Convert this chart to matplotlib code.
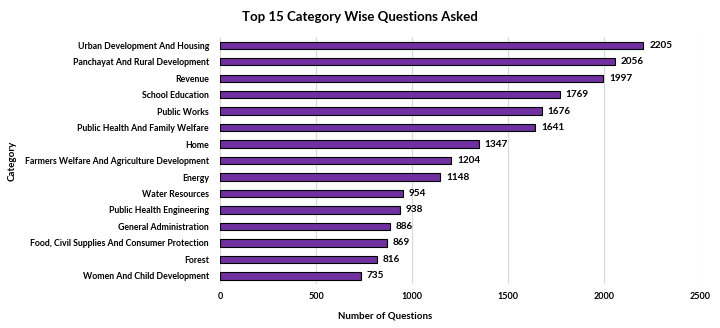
import matplotlib
matplotlib.use("Agg")
import matplotlib.pyplot as plt

categories = [
    "Urban Development And Housing",
    "Panchayat And Rural Development",
    "Revenue",
    "School Education",
    "Public Works",
    "Public Health And Family Welfare",
    "Home",
    "Farmers Welfare And Agriculture Development",
    "Energy",
    "Water Resources",
    "Public Health Engineering",
    "General Administration",
    "Food, Civil Supplies And Consumer Protection",
    "Forest",
    "Women And Child Development",
]
questions = [2205, 2056, 1997, 1769, 1676, 1641, 1347, 1204, 1148, 954, 938, 886, 869, 816, 735]
xticks = [0, 500, 1000, 1500, 2000, 2500]

plt.rcParams['font.family'] = ['Lato', 'DejaVu Sans']
plt.rcParams['font.weight'] = 'bold'

fig = plt.figure(figsize=(7.2, 3.28), dpi=100)
ax = fig.add_axes([0.3056, 0.134, 0.6667, 0.753])

ypos = list(range(len(categories)))
ax.barh(ypos, questions, height=0.45, color='#7030A0', edgecolor='black', linewidth=0.8, zorder=3)
for y, v in zip(ypos, questions):
    ax.text(v + 30, y, str(v), va='center', ha='left', fontsize=7.2, fontweight='bold')

ax.set_yticks(ypos)
ax.set_yticklabels(categories, fontsize=6.3, fontweight='bold')
ax.set_ylim(len(categories) - 0.5, -0.5)
ax.set_xlim(0, 2500)
ax.set_xticks(xticks)
ax.set_xticklabels([str(t) for t in xticks], fontsize=6.5, fontweight='bold')
ax.tick_params(axis='y', length=0, pad=8)
ax.tick_params(axis='x', length=0, pad=6)
ax.xaxis.grid(True, color='#d9d9d9', linewidth=0.8, zorder=0)
for s in ax.spines.values():
    s.set_visible(False)

fig.text(0.535, 0.036, "Number of Questions", ha='center', va='center', fontsize=7, fontweight='bold')
fig.text(0.017, 0.51, "Category", rotation=90, va='center', ha='center', fontsize=7, fontweight='bold')
fig.text(0.5, 0.948, "Top 15 Category Wise Questions Asked", ha='center', va='center', fontsize=9.5, fontweight='bold')

fig.savefig("out.png", dpi=100)
